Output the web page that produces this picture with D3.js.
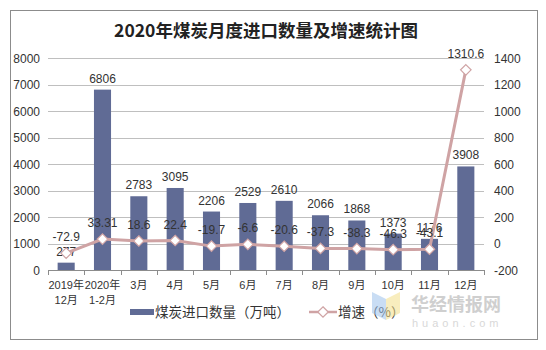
<!DOCTYPE html>
<html>
<head>
<meta charset="utf-8">
<script src="https://cdn.jsdelivr.net/npm/d3@7"></script>
<style>
  body { margin: 0; background: #fff; }
  text { font-family: "Liberation Sans", Arial, "Noto Sans CJK SC", sans-serif; fill: #333; }
</style>
</head>
<body>
<svg id="chart" width="546" height="350"></svg>
<script>
let months = ["2019年|12月", "2020年|1-2月", "3月", "4月", "5月", "6月", "7月", "8月", "9月", "10月", "11月", "12月"]
let imports = [277, 6806, 2783, 3095, 2206, 2529, 2610, 2066, 1868, 1373, 1176, 3908]
let growth = [-72.9, 33.31, 18.6, 22.4, -19.7, -6.6, -20.6, -37.3, -38.3, -46.3, -43.1, 1310.6]
let leftTicks = [0, 1000, 2000, 3000, 4000, 5000, 6000, 7000, 8000]
let rightTicks = [-200, 0, 200, 400, 600, 800, 1000, 1200, 1400]

let chart = d3.select("#chart")
let plotLeft = 48, plotRight = 484, plotTop = 58, plotBottom = 270
let barColor = "#606b95", lineColor = "#cfa3a4"

// outer frame
chart.append("rect")
    .attr("x", 10.5).attr("y", 10.5)
    .attr("width", 527).attr("height", 329)
    .attr("fill", "none").attr("stroke", "#8c8c8c")

chart.append("text")
    .attr("x", 266).attr("y", 37)
    .attr("text-anchor", "middle")
    .style("font-family", "'Noto Sans CJK SC', sans-serif")
    .style("font-size", "17.5px").style("font-weight", "bold")
    .style("fill", "#222")
    .text("2020年煤炭月度进口数量及增速统计图")

let xscale = d3.scaleBand()
    .domain(months)
    .range([plotLeft, plotRight])
    .paddingInner(0.53).paddingOuter(0.265)

let yscale = d3.scaleLinear().domain([0, 8000]).range([plotBottom, plotTop])
let y2scale = d3.scaleLinear().domain([-200, 1400]).range([plotBottom, plotTop])

// gridlines
chart.append("g").selectAll("line").data(leftTicks.slice(1)).enter().append("line")
    .attr("x1", plotLeft).attr("x2", plotRight)
    .attr("y1", d => Math.round(yscale(d)) + 0.5).attr("y2", d => Math.round(yscale(d)) + 0.5)
    .attr("stroke", "#bfbfbf")

// left axis labels
chart.append("g").selectAll("text").data(leftTicks).enter().append("text")
    .attr("x", 40).attr("y", d => yscale(d) + 4.5)
    .attr("text-anchor", "end")
    .style("font-size", "12px")
    .text(d => d)

// right axis labels
chart.append("g").selectAll("text").data(rightTicks).enter().append("text")
    .attr("x", 494).attr("y", d => y2scale(d) + 4.5)
    .style("font-size", "12px")
    .text(d => d)

// bottom axis
let xaxis = chart.append("g")
xaxis.append("line")
    .attr("x1", plotLeft).attr("x2", plotRight)
    .attr("y1", plotBottom + 0.5).attr("y2", plotBottom + 0.5)
    .attr("stroke", "#8c8c8c")
let step = (plotRight - plotLeft) / months.length
xaxis.selectAll("line.tick").data(d3.range(months.length + 1)).enter().append("line")
    .attr("class", "tick")
    .attr("x1", i => Math.round(plotLeft + i * step) + 0.5).attr("x2", i => Math.round(plotLeft + i * step) + 0.5)
    .attr("y1", plotBottom).attr("y2", plotBottom + 5)
    .attr("stroke", "#8c8c8c")

let xlabels = xaxis.selectAll("text").data(months).enter().append("text")
    .attr("text-anchor", "middle")
    .style("font-size", "11px")
xlabels.each(function (d) {
    let parts = d.split("|")
    let cx = xscale(d) + xscale.bandwidth() / 2
    parts.forEach((p, i) => {
        d3.select(this).append("tspan")
            .attr("x", cx).attr("y", 289 + i * 15)
            .text(p)
    })
})

// bars
chart.append("g").selectAll("rect").data(imports).enter().append("rect")
    .attr("x", (d, i) => xscale(months[i]))
    .attr("y", d => yscale(d))
    .attr("width", xscale.bandwidth())
    .attr("height", d => plotBottom - yscale(d))
    .attr("fill", barColor)

chart.append("g").selectAll("text").data(imports).enter().append("text")
    .attr("x", (d, i) => xscale(months[i]) + xscale.bandwidth() / 2)
    .attr("y", d => yscale(d) - 7)
    .attr("text-anchor", "middle")
    .style("font-size", "12px")
    .text(d => d)

// growth line
let cx = (d, i) => xscale(months[i]) + xscale.bandwidth() / 2
let line = d3.line().x(cx).y(d => y2scale(d))
chart.append("path")
    .datum(growth)
    .attr("d", line)
    .attr("fill", "none")
    .attr("stroke", lineColor)
    .attr("stroke-width", 3)

let diamond = d3.symbol().type(d3.symbolDiamond2).size(70)
chart.append("g").selectAll("path").data(growth).enter().append("path")
    .attr("d", diamond)
    .attr("transform", (d, i) => "translate(" + cx(d, i) + "," + y2scale(d) + ")")
    .attr("fill", "#fff")
    .attr("stroke", lineColor)
    .attr("stroke-width", 1.2)

chart.append("g").selectAll("text").data(growth).enter().append("text")
    .attr("x", cx)
    .attr("y", d => y2scale(d) - 12)
    .attr("text-anchor", "middle")
    .style("font-size", "12px")
    .text(d => d)

// legend
let legend = chart.append("g")
legend.append("rect")
    .attr("x", 130).attr("y", 309).attr("width", 24).attr("height", 6)
    .attr("fill", barColor)
legend.append("text")
    .attr("x", 155).attr("y", 317)
    .style("font-size", "13.5px")
    .style("font-family", "'Noto Sans CJK SC', sans-serif")
    .text("煤炭进口数量（万吨）")
legend.append("line")
    .attr("x1", 309).attr("x2", 337).attr("y1", 312).attr("y2", 312)
    .attr("stroke", lineColor).attr("stroke-width", 2.5)
legend.append("path")
    .attr("d", diamond)
    .attr("transform", "translate(323,312)")
    .attr("fill", "#fff").attr("stroke", lineColor).attr("stroke-width", 1.2)
legend.append("text")
    .attr("x", 338).attr("y", 317)
    .style("font-size", "13.5px")
    .style("font-family", "'Noto Sans CJK SC', sans-serif")
    .text("增速（%）")

// watermark
let wm = chart.append("g").attr("opacity", 0.55)
wm.append("polygon").attr("points", "372,292 386,299 386,320 372,313").attr("fill", "#9ec3ec")
wm.append("polygon").attr("points", "386,299 400,292 400,313 386,320").attr("fill", "#f3df8a")
wm.append("text")
    .attr("x", 411).attr("y", 311)
    .style("font-size", "18px").style("font-weight", "bold")
    .style("font-family", "'Noto Sans CJK SC', sans-serif")
    .style("fill", "#a8a8a8")
    .text("华经情报网")
wm.append("text")
    .attr("x", 412).attr("y", 327)
    .style("font-size", "11px").style("letter-spacing", "4px")
    .style("fill", "#b8b8b8")
    .text("huaon.com")
</script>
</body>
</html>
